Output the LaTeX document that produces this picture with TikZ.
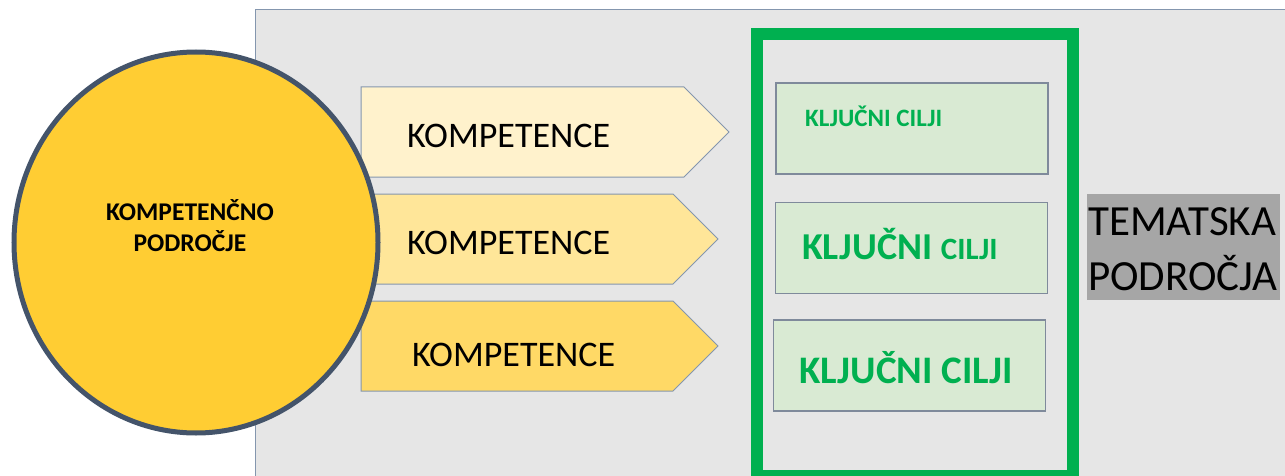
\documentclass[tikz,border=0pt]{standalone}
\usepackage{fontspec}
\setmainfont{Carlito}
\usetikzlibrary{positioning,shapes.geometric}
\definecolor{panelfill}{HTML}{E6E6E6}
\definecolor{panelline}{HTML}{8496AE}
\definecolor{kompA}{HTML}{FFF2CC}
\definecolor{kompB}{HTML}{FFE699}
\definecolor{kompC}{HTML}{FFD966}
\definecolor{sunfill}{HTML}{FFCD33}
\definecolor{sunline}{HTML}{44546A}
\definecolor{goalfill}{HTML}{D9EAD3}
\definecolor{goalline}{HTML}{7F8A9B}
\definecolor{goalgreen}{HTML}{00B050}
\definecolor{hlgray}{HTML}{A6A6A6}
\tikzset{
  arrowbox/.style={draw=panelline, line width=1pt},
  komptext/.style={anchor=base west, inner sep=0pt, font=\fontsize{36}{40}\selectfont},
  goalbox/.style={draw=goalline, fill=goalfill, line width=1.3pt, minimum width=272pt, minimum height=91pt, inner sep=0pt},
  goaltext/.style={anchor=base west, inner sep=0pt, text=goalgreen},
}
\begin{document}
\begin{tikzpicture}[x=1pt,y=-1pt]
  \useasboundingbox (0,0) rectangle (1285,476);
  % background panel
  \draw[fill=panelfill, draw=panelline, line width=1pt] (255,10) rectangle (1300,490);
  % competence arrows
  \draw[arrowbox, fill=kompA] (361,87) -- (684,87) -- (729,132) -- (684,177) -- (361,177) -- cycle;
  \draw[arrowbox, fill=kompB] (361,194) -- (673,194) -- (718,239) -- (673,284) -- (361,284) -- cycle;
  \draw[arrowbox, fill=kompC] (361,301) -- (673,301) -- (718,346) -- (673,391) -- (361,391) -- cycle;
  \node[komptext] (komp1) at (407,148) {KOMPETENCE};
  \node[komptext] (komp2) at (407,254) {KOMPETENCE};
  \node[komptext] (komp3) at (412,366) {KOMPETENCE};
  % competence area
  \node[ellipse, draw=sunline, fill=sunfill, line width=5pt,
        minimum width=364pt, minimum height=381pt] (podrocje) at (196,242.5) {};
  \node[align=center, inner sep=0pt, font=\bfseries\fontsize{25.5}{31}\selectfont]
        (podrocjetext) at (190,226) {KOMPETENČNO\\PODROČJE};
  % key goals
  \draw[goalgreen, line width=12pt] (757,34.5) rectangle (1072.5,476);
  \node[goalbox] (cilj1) at (912,128.5) {};
  \node[goalbox] (cilj2) at (911.5,248) {};
  \node[goalbox] (cilj3) at (909.5,365.5) {};
  \node[goaltext, font=\bfseries\fontsize{25}{30}\selectfont] (cilj1text) at (805,127) {KLJUČNI CILJI};
  \node[goaltext, font=\bfseries\fontsize{38}{42}\selectfont] (cilj2text) at (802,259)
        {KLJUČNI {\fontsize{31}{34}\selectfont CILJI}};
  \node[goaltext, font=\bfseries\fontsize{39}{44}\selectfont] (cilj3text) at (799,383) {KLJUČNI CILJI};
  % thematic areas
  \fill[hlgray] (1087,194) rectangle (1280,300);
  \node[anchor=base west, inner sep=0pt, font=\fontsize{43}{50}\selectfont] (tema1) at (1088,235) {TEMATSKA};
  \node[anchor=base west, inner sep=0pt, font=\fontsize{43}{50}\selectfont] (tema2) at (1088,290) {PODROČJA};
\end{tikzpicture}
\end{document}
